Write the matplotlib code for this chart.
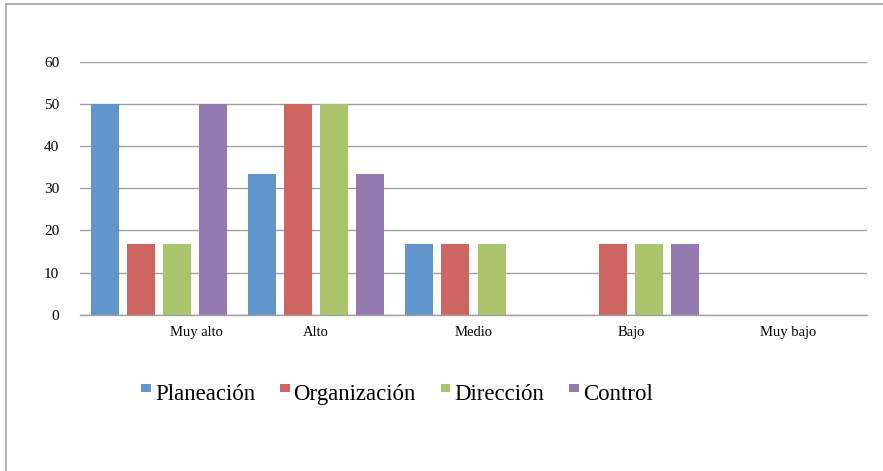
import matplotlib
matplotlib.use("Agg")
import matplotlib.pyplot as plt
import matplotlib.transforms as mtransforms
from matplotlib.patches import Rectangle
from matplotlib.lines import Line2D
import numpy as np

categories = ["Muy alto", "Alto", "Medio", "Bajo", "Muy bajo"]
series_names = ["Planeación", "Organización", "Dirección", "Control"]
planeacion = [50, 33.33, 16.67, 0, 0]
organizacion = [16.67, 50, 16.67, 16.67, 0]
direccion = [16.67, 50, 16.67, 16.67, 0]
control = [50, 33.33, 0, 16.67, 0]
y_ticks = [0, 10, 20, 30, 40, 50, 60]

series_values = [planeacion, organizacion, direccion, control]
colors = ["#6096c9", "#cd6560", "#abc46b", "#937ab1"]

W, H = 883, 471
fig = plt.figure(figsize=(W / 100, H / 100), dpi=100)
fig.patch.set_facecolor("white")

ax = fig.add_axes([80 / W, 1 - 314.7 / H, (867 - 80) / W, (314.7 - 61.7) / H])

x = np.arange(len(categories))
bw = 0.178
step = 0.229
for i, (name, vals, c) in enumerate(zip(series_names, series_values, colors)):
    ax.bar(x + (i - 1.5) * step, vals, width=bw, color=c, zorder=3, label=name)

ax.set_xlim(-0.5, len(categories) - 0.5)
ax.set_ylim(0, 60)
ax.set_yticks(y_ticks)
ax.set_yticklabels([str(v) for v in y_ticks], fontfamily="Liberation Serif", fontsize=11)
ax.set_xticks(x)
ax.set_xticklabels(categories, fontfamily="Liberation Serif", fontsize=10.5)
ax.tick_params(axis="both", length=0)
ax.tick_params(axis="y", pad=15)
ax.tick_params(axis="x", pad=8)

# first category label is drawn shifted to the right in the reference
lbl = ax.get_xticklabels()[0]
lbl.set_transform(lbl.get_transform() + mtransforms.ScaledTranslation(38 / 100, 0, fig.dpi_scale_trans))

ax.yaxis.grid(True, color="#a0a0a0", linewidth=1.0, zorder=0)
ax.set_axisbelow(True)
for s in ["top", "right", "left"]:
    ax.spines[s].set_visible(False)
ax.spines["bottom"].set_color("#a0a0a0")
ax.spines["bottom"].set_linewidth(1.0)
ax.spines["bottom"].set_zorder(4)

# legend: square swatches + labels sharing one baseline
renderer = fig.canvas.get_renderer()
sq_w, sq_h, pad, colsep = 9.5, 7.5, 4.0, 25.0
baseline_y = 400.0
sq_top = 384.0
texts = []
widths = []
for name in series_names:
    t = fig.text(0, 1 - baseline_y / H, name, ha="left", va="baseline",
                 fontfamily="Liberation Serif", fontsize=16.5)
    texts.append(t)
    widths.append(t.get_window_extent(renderer).width)
total = sum(sq_w + pad + w for w in widths) + colsep * (len(widths) - 1)
cx = 397 - total / 2
for t, w, c in zip(texts, widths, colors):
    fig.add_artist(Rectangle((cx / W, 1 - (sq_top + sq_h) / H), sq_w / W, sq_h / H,
                             transform=fig.transFigure, facecolor=c, edgecolor="none"))
    t.set_x((cx + sq_w + pad) / W)
    cx += sq_w + pad + w + colsep

# outer border (top and left visible)
fig.add_artist(Line2D([6 / W, 1.0], [1 - 4 / H, 1 - 4 / H], transform=fig.transFigure,
                      color="#a6a6a6", linewidth=1.2))
fig.add_artist(Line2D([6 / W, 6 / W], [0.0, 1 - 4 / H], transform=fig.transFigure,
                      color="#a6a6a6", linewidth=1.2))

fig.savefig("out.png", dpi=100, facecolor="white")
